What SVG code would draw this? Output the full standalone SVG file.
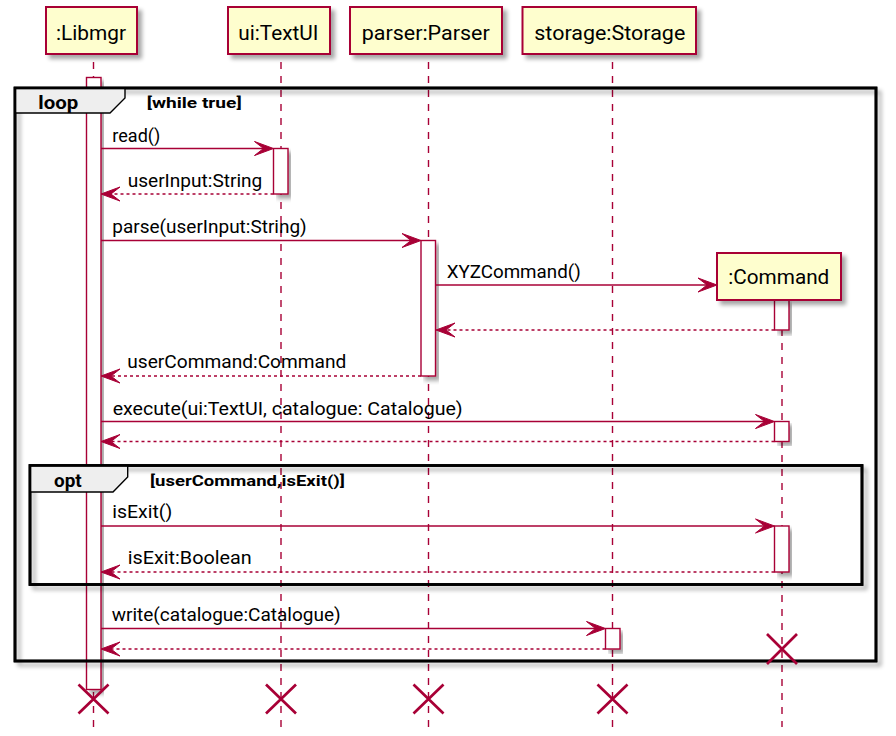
<svg xmlns="http://www.w3.org/2000/svg" width="896" height="736" viewBox="0 0 896 736">
<defs>
<style>
.part{fill:#FEFECE;stroke:#A80036;stroke-width:2}
.ptxt{font-family:Roboto,"Liberation Sans",sans-serif;font-size:19.5px;fill:#000}
.life{stroke:#A80036;stroke-width:1.4;stroke-dasharray:7,7;fill:none}
.act{fill:#FFFFFF;stroke:#A80036;stroke-width:1.4}
.msg{stroke:#A80036;stroke-width:1.4;fill:none;marker-end:url(#ah)}
.ret{stroke:#A80036;stroke-width:1.4;fill:none;stroke-dasharray:3,3;marker-end:url(#ah)}
.mtxt{font-family:Roboto,"Liberation Sans",sans-serif;font-size:18px;fill:#000}
.frame{fill:none;stroke:#000;stroke-width:2.7}
.tab{fill:#EEEEEE;stroke:#000;stroke-width:1.4}
.ftxt{font-family:Roboto,"Liberation Sans",sans-serif;font-weight:bold;font-size:18px;fill:#000}
.ctxt{font-family:Roboto,"Liberation Sans",sans-serif;font-weight:bold;font-size:15px;fill:#000}
.x{stroke:#A80036;stroke-width:2.7;fill:none}
</style>
<filter id="sh" x="-10%" y="-10%" width="130%" height="130%">
<feGaussianBlur in="SourceAlpha" stdDeviation="2"/>
<feOffset dx="4" dy="4"/>
<feComponentTransfer><feFuncA type="linear" slope="0.35"/></feComponentTransfer>
<feMerge><feMergeNode/><feMergeNode in="SourceGraphic"/></feMerge>
</filter>
<marker id="ah" viewBox="-20 -8 21 16" markerWidth="21" markerHeight="16" refX="-8" refY="0" orient="auto" markerUnits="userSpaceOnUse">
<path d="M0,0 L-19,-7 L-10,0 L-19,7 Z" fill="#A80036" stroke="#A80036" stroke-width="1"/>
</marker>
</defs>
<rect width="896" height="736" fill="#FFFFFF"/>

<g id="lifelines">
<line class="life" x1="93.5" y1="62" x2="93.5" y2="727"/>
<line class="life" x1="281" y1="62" x2="281" y2="727"/>
<line class="life" x1="428.5" y1="62" x2="428.5" y2="727"/>
<line class="life" x1="612.5" y1="62" x2="612.5" y2="727"/>
<line class="life" x1="782" y1="301" x2="782" y2="727"/>
</g>

<g id="activations">
<rect class="act" x="86.5" y="77.5" width="14.5" height="612" filter="url(#sh)"/>
<rect class="act" x="273.5" y="148.5" width="14.5" height="45.5" filter="url(#sh)"/>
<rect class="act" x="421" y="240.5" width="14.5" height="135.5" filter="url(#sh)"/>
<rect class="act" x="774.5" y="300" width="14.5" height="30" filter="url(#sh)"/>
<rect class="act" x="774.5" y="421.5" width="14.5" height="20" filter="url(#sh)"/>
<rect class="act" x="774.5" y="526" width="14.5" height="46" filter="url(#sh)"/>
<rect class="act" x="605.5" y="628.5" width="14.5" height="20.5" filter="url(#sh)"/>
</g>

<g id="frame-loop">
<rect class="frame" x="15" y="88" width="861" height="573" filter="url(#sh)"/>
<path class="tab" d="M15,88 L125,88 L125,98 L110,113 L15,113 Z"/>
<rect class="frame" x="15" y="88" width="861" height="573"/>
<text class="ftxt" x="38.3" y="109" textLength="40" lengthAdjust="spacingAndGlyphs">loop</text>
<text class="ctxt" x="146.7" y="108" textLength="95" lengthAdjust="spacingAndGlyphs">[while true]</text>
</g>

<g id="frame-opt">
<rect class="frame" x="30" y="465.5" width="832" height="119" filter="url(#sh)"/>
<path class="tab" d="M30,465.5 L127.7,465.5 L127.7,477 L113,492 L30,492 Z"/>
<rect class="frame" x="30" y="465.5" width="832" height="119"/>
<text class="ftxt" x="54" y="486.5" textLength="27.7" lengthAdjust="spacingAndGlyphs">opt</text>
<text class="ctxt" x="150" y="486" textLength="195" lengthAdjust="spacingAndGlyphs">[userCommand,isExit()]</text>
</g>

<g id="p-libmgr">
<rect class="part" x="46" y="7" width="91" height="47" filter="url(#sh)"/>
<text class="ptxt" x="56" y="39.5" textLength="70" lengthAdjust="spacingAndGlyphs">:Libmgr</text>
</g>
<g id="p-textui">
<rect class="part" x="228" y="7" width="102" height="47" filter="url(#sh)"/>
<text class="ptxt" x="238.3" y="39.5" textLength="80" lengthAdjust="spacingAndGlyphs">ui:TextUI</text>
</g>
<g id="p-parser">
<rect class="part" x="350" y="7" width="152" height="47" filter="url(#sh)"/>
<text class="ptxt" x="361.7" y="39.5" textLength="128" lengthAdjust="spacingAndGlyphs">parser:Parser</text>
</g>
<g id="p-storage">
<rect class="part" x="522.5" y="7" width="173.5" height="47" filter="url(#sh)"/>
<text class="ptxt" x="534.3" y="39.5" textLength="151" lengthAdjust="spacingAndGlyphs">storage:Storage</text>
</g>
<g id="p-command">
<rect class="part" x="717" y="253" width="124" height="47" filter="url(#sh)"/>
<text class="ptxt" x="728.3" y="284" textLength="101" lengthAdjust="spacingAndGlyphs">:Command</text>
</g>

<g id="connectors">
<line class="msg" x1="101" y1="148.5" x2="265.5" y2="148.5"/>
<line class="ret" x1="273.5" y1="194" x2="109" y2="194"/>
<line class="msg" x1="101" y1="240.5" x2="413" y2="240.5"/>
<line class="msg" x1="436" y1="285" x2="709" y2="285"/>
<line class="ret" x1="774.5" y1="330" x2="444" y2="330"/>
<line class="ret" x1="421" y1="376" x2="109" y2="376"/>
<line class="msg" x1="101" y1="421.5" x2="766.5" y2="421.5"/>
<line class="ret" x1="774.5" y1="441.5" x2="109" y2="441.5"/>
<line class="msg" x1="101" y1="526" x2="766.5" y2="526"/>
<line class="ret" x1="774.5" y1="572" x2="109" y2="572"/>
<line class="msg" x1="101" y1="628.5" x2="597.5" y2="628.5"/>
<line class="ret" x1="605.5" y1="649" x2="109" y2="649"/>
</g>

<g id="labels">
<text class="mtxt" x="112.3" y="141.5" textLength="48" lengthAdjust="spacingAndGlyphs">read()</text>
<text class="mtxt" x="127.7" y="186.5" textLength="134.6" lengthAdjust="spacingAndGlyphs">userInput:String</text>
<text class="mtxt" x="112.3" y="233" textLength="194.4" lengthAdjust="spacingAndGlyphs">parse(userInput:String)</text>
<text class="mtxt" x="446.7" y="278" textLength="134" lengthAdjust="spacingAndGlyphs">XYZCommand()</text>
<text class="mtxt" x="127.3" y="368.3" textLength="219" lengthAdjust="spacingAndGlyphs">userCommand:Command</text>
<text class="mtxt" x="112.7" y="415" textLength="350" lengthAdjust="spacingAndGlyphs">execute(ui:TextUI, catalogue: Catalogue)</text>
<text class="mtxt" x="112.3" y="518.3" textLength="60" lengthAdjust="spacingAndGlyphs">isExit()</text>
<text class="mtxt" x="127.7" y="564" textLength="124" lengthAdjust="spacingAndGlyphs">isExit:Boolean</text>
<text class="mtxt" x="111.7" y="620.5" textLength="229" lengthAdjust="spacingAndGlyphs">write(catalogue:Catalogue)</text>
</g>

<g id="destroys">
<path class="x" d="M767,634 L797,664 M797,634 L767,664"/>
<path class="x" d="M78.5,684.5 L108.5,713.5 M108.5,684.5 L78.5,713.5"/>
<path class="x" d="M266,684.5 L296,713.5 M296,684.5 L266,713.5"/>
<path class="x" d="M413.5,684.5 L443.5,713.5 M443.5,684.5 L413.5,713.5"/>
<path class="x" d="M597.5,684.5 L627.5,713.5 M627.5,684.5 L597.5,713.5"/>
</g>
</svg>
